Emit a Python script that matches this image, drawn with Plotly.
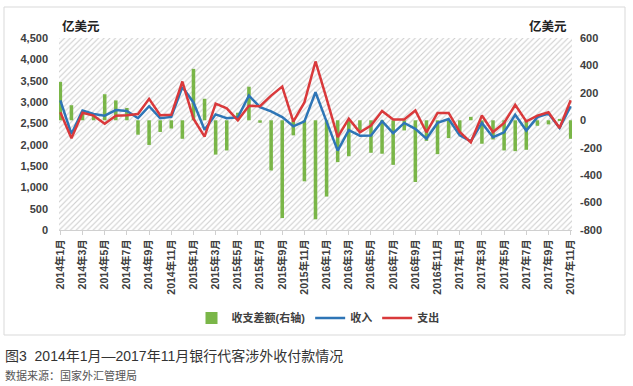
import plotly.graph_objects as go

months = [
    "2014年1月", "2014年2月", "2014年3月", "2014年4月", "2014年5月", "2014年6月",
    "2014年7月", "2014年8月", "2014年9月", "2014年10月", "2014年11月", "2014年12月",
    "2015年1月", "2015年2月", "2015年3月", "2015年4月", "2015年5月", "2015年6月",
    "2015年7月", "2015年8月", "2015年9月", "2015年10月", "2015年11月", "2015年12月",
    "2016年1月", "2016年2月", "2016年3月", "2016年4月", "2016年5月", "2016年6月",
    "2016年7月", "2016年8月", "2016年9月", "2016年10月", "2016年11月", "2016年12月",
    "2017年1月", "2017年2月", "2017年3月", "2017年4月", "2017年5月", "2017年6月",
    "2017年7月", "2017年8月", "2017年9月", "2017年10月", "2017年11月",
]

# 收入 (left axis, 亿美元)
income = [
    3040, 2250, 2800, 2720, 2680, 2810, 2790, 2620, 2900, 2620, 2650, 3350,
    2990, 2350, 2710, 2620, 2640, 3150, 2880, 2780, 2645, 2430, 2545, 3230,
    2540, 1860, 2340, 2210, 2215, 2550, 2270, 2510, 2370, 2140, 2510, 2600,
    2220, 2080, 2510, 2175, 2290, 2700, 2330, 2645, 2730, 2390, 2900,
]

# 支出 (left axis, 亿美元)
expense = [
    2760, 2150, 2750, 2680, 2490, 2680, 2690, 2720, 3075, 2690, 2700, 3480,
    2610, 2190, 2960, 2850, 2570, 2910, 2900, 3150, 3360, 2540, 2990, 3950,
    3080, 2175, 2610, 2290, 2450, 2790, 2590, 2590, 2800, 2290, 2745, 2745,
    2300, 2055, 2685, 2295, 2510, 2935, 2545, 2680, 2760, 2390, 3040,
]

# 收支差额 (right axis, 亿美元)
balance = [
    280, 110, 60, 45, 190, 145, 90, -105, -180, -85, -60, -135,
    375, 157, -250, -220, 55, 245, -18, -366, -713, -110, -445, -722,
    -556, -305, -262, -75, -237, -244, -325, -74, -450, -150, -247, -130,
    -95, 25, -171, -140, -220, -225, -215, -40, -30, 10, -135,
]

x_tick_labels = months[::2]
left_ticks = [0, 500, 1000, 1500, 2000, 2500, 3000, 3500, 4000, 4500]
left_tick_text = ["0", "500", "1,000", "1,500", "2,000", "2,500", "3,000", "3,500", "4,000", "4,500"]
right_ticks = [-800, -600, -400, -200, 0, 200, 400, 600]
right_tick_text = ["-800", "-600", "-400", "-200", "0", "200", "400", "600"]

FONT = "Liberation Sans, Arial, Noto Sans CJK SC, sans-serif"
TICK_COLOR = "#404040"

fig = go.Figure()

# hatched plot background (on the right-axis subplot, beneath everything)
fig.add_trace(go.Bar(
    x=[months[23]], y=[1400], base=[-800], width=[46.6],
    marker=dict(color="white", line=dict(width=0),
                pattern=dict(shape="/", fgcolor="#cdcdcd", bgcolor="white",
                             size=4, solidity=0.25, fillmode="replace")),
    showlegend=False, hoverinfo="skip", yaxis="y",
))

fig.add_trace(go.Bar(
    x=months, y=balance, name="收支差额(右轴)", width=0.32,
    marker=dict(color="#7ab648", line=dict(width=0)), yaxis="y",
))

fig.add_trace(go.Scatter(
    x=months, y=income, name="收入", mode="lines",
    line=dict(color="#2e75b6", width=2.5), yaxis="y2",
))
fig.add_trace(go.Scatter(
    x=months, y=expense, name="支出", mode="lines",
    line=dict(color="#d9393b", width=2.5), yaxis="y2",
))

L, R, T, B = 59, 61, 38, 156
W, H = 633, 386
pw = W - L - R
ph = H - T - B

def px_x(p):
    return (p - L) / pw

def px_y(p):
    return (H - B - p) / ph

fig.update_layout(
    width=W, height=H,
    margin=dict(l=L, r=R, t=T, b=B, pad=0),
    paper_bgcolor="white", plot_bgcolor="white",
    barmode="overlay",
    font=dict(family=FONT, color=TICK_COLOR),
    showlegend=True,
    legend=dict(orientation="h", x=px_x(318), y=px_y(318), xanchor="center", yanchor="middle",
                font=dict(size=11, color="#404040", weight="bold"),
                itemwidth=30, tracegroupgap=0, bgcolor="rgba(0,0,0,0)"),
    xaxis=dict(
        type="category", categoryorder="array", categoryarray=months,
        range=[-0.12, 46.12],
        tickmode="array", tickvals=x_tick_labels, ticktext=x_tick_labels,
        tickangle=-90, tickfont=dict(size=10.5, color=TICK_COLOR, weight="bold"),
        showgrid=False, showline=True, linecolor="#d0d0d0", linewidth=1,
        ticks="outside", ticklen=4, tickcolor="#d0d0d0", zeroline=False,
    ),
    yaxis=dict(
        side="right", range=[-800, 600], tickmode="array",
        tickvals=right_ticks, ticktext=right_tick_text,
        tickfont=dict(size=11, color=TICK_COLOR, weight="bold"),
        showgrid=False, zeroline=False, showline=False, ticks="", ticklabelstandoff=7,
    ),
    yaxis2=dict(
        overlaying="y", side="left", range=[0, 4500], tickmode="array",
        tickvals=left_ticks, ticktext=left_tick_text,
        tickfont=dict(size=11, color=TICK_COLOR, weight="bold"),
        showgrid=True, gridcolor="#d6d6d6", gridwidth=1.3,
        zeroline=False, showline=False, ticks="", ticklabelstandoff=10,
    ),
    shapes=[dict(type="rect", xref="paper", yref="paper",
                 x0=px_x(4), x1=px_x(625), y0=px_y(335), y1=px_y(7),
                 line=dict(color="#d9d9d9", width=1), fillcolor="rgba(0,0,0,0)", layer="below")],
    annotations=[
        dict(text="亿美元", xref="paper", yref="paper", x=px_x(60), y=px_y(27),
             xanchor="left", yanchor="middle", showarrow=False,
             font=dict(size=12.5, color="#222", weight="bold")),
        dict(text="亿美元", xref="paper", yref="paper", x=px_x(569), y=px_y(27),
             xanchor="right", yanchor="middle", showarrow=False,
             font=dict(size=12.5, color="#222", weight="bold")),
        dict(text="图3  2014年1月—2017年11月银行代客涉外收付款情况", xref="paper", yref="paper",
             x=px_x(3), y=px_y(356), xanchor="left", yanchor="middle", showarrow=False,
             font=dict(size=14, color="#333")),
        dict(text="数据来源：国家外汇管理局", xref="paper", yref="paper",
             x=px_x(3), y=px_y(375), xanchor="left", yanchor="middle", showarrow=False,
             font=dict(size=11, color="#555")),
    ],
)

fig.write_html("out.html", config={"displayModeBar": False},
               post_script="document.body.style.margin='0';document.body.style.overflow='hidden';")
